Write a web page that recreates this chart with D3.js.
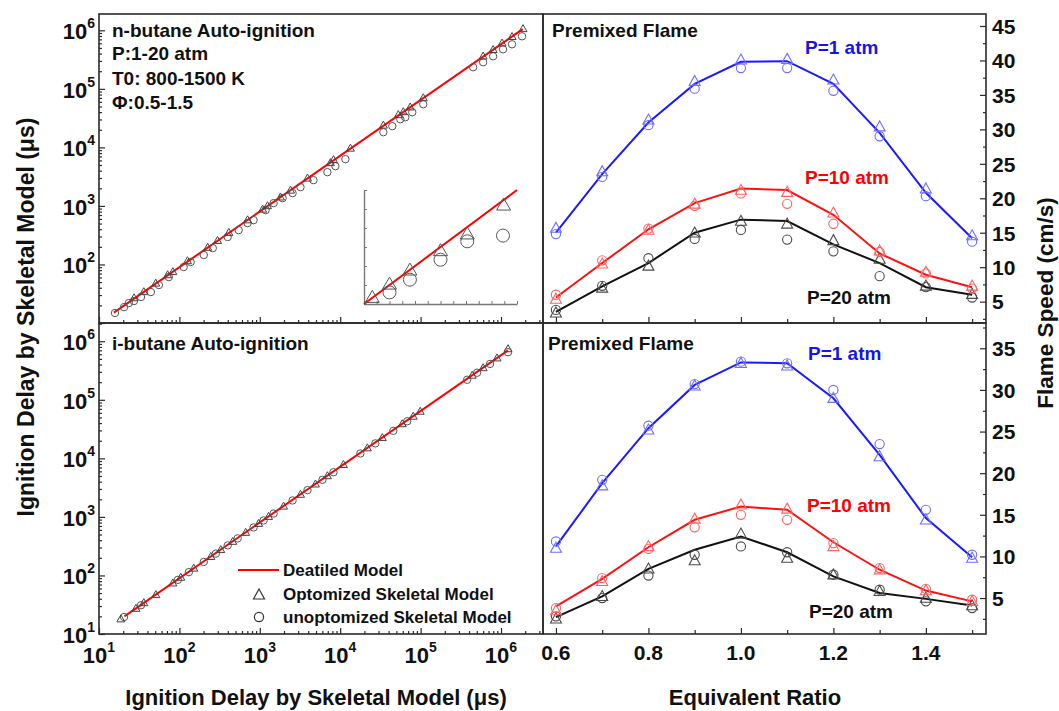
<!DOCTYPE html>
<html>
<head>
<meta charset="utf-8">
<script src="https://cdn.jsdelivr.net/npm/d3@7"></script>
<style>
  body { margin: 0; background: #fff; }
  svg text { font-family: "Liberation Sans", Arial, Helvetica, sans-serif; font-weight: bold; fill: #111; }
</style>
</head>
<body>
<svg id="chart" width="1059" height="711"></svg>
<script>
// ---------- Ignition delay data (μs): [skeletal, detailed] ----------
const nButaneDetailed = [[15.3, 15], [1866000, 1050000]];
const nButaneOptimized = [
  [27.3, 27.5], [36.1, 35], [50.8, 49], [71.4, 68], [82.9, 77], [126, 118], [225, 200], [298, 262],
  [412, 360], [704, 590], [1084, 900], [1247, 1030], [1807, 1450], [2412, 1900], [3915, 3050],
  [7556, 5600], [8248, 6300], [13400, 9900], [34410, 24500], [52840, 37000], [60900, 41500],
  [74270, 50000], [107900, 72000], [599500, 370000], [797500, 480000], [1030000, 620000],
  [1372000, 800000], [1879000, 1090000]
];
const nButaneUnoptimized = [
  [15.8, 14.8], [20.5, 18.7], [23.5, 21.9], [27.2, 23.7], [33.3, 27.8], [44.2, 33.8], [55.6, 44.5],
  [73.9, 60.9], [113, 90.3], [138, 110], [201, 145], [260, 190], [399, 294], [546, 386], [706, 509],
  [837, 572], [1181, 848], [1485, 1116], [1921, 1358], [2556, 1653], [3209, 2093], [4652, 2757],
  [6935, 3773], [8721, 4779], [11610, 6295], [34410, 18160], [44490, 23010], [55910, 30270],
  [64480, 32730], [78780, 39880], [107900, 54600], [450400, 233900], [599500, 284600],
  [797500, 359700], [1060000, 474000], [1372000, 577000], [1826000, 790000]
];

const iButaneDetailed = [[20.7, 20], [1223000, 700000]];
const iButaneOptimized = [
  [18.7, 18.5], [28.8, 28], [36.1, 35], [51.0, 48], [82.9, 76], [104, 95], [151, 136], [246, 215],
  [327, 282], [461, 390], [667, 555], [967, 790], [1285, 1040], [1976, 1560], [3209, 2480],
  [4923, 3720], [6935, 5150], [10970, 8000], [21770, 15400], [33400, 23100], [59150, 39800],
  [80890, 53500], [98850, 65000], [438200, 268000], [599500, 360000], [893000, 530000],
  [1223000, 760000]
];
const iButaneUnoptimized = [
  [20.5, 19.5], [33.3, 31], [95.6, 84], [131, 114], [201, 170], [284, 236], [399, 326], [531, 430],
  [837, 660], [1115, 870], [1485, 1140], [2556, 1910], [3920, 2870], [6015, 4300], [8248, 5800],
  [17820, 12100], [27350, 18000], [45770, 29500], [68200, 43000], [379000, 220000],
  [504600, 290000], [731400, 410000], [1223000, 650000]
];

// Inset (linear close-up of the n-butane comparison)
const insetDetailed = [[0, 0], [12, 6]];
const insetOptimized = [[0.65, 0.4], [2.0, 1.1], [3.6, 1.84], [6.0, 2.86], [8.1, 3.74], [10.95, 5.26]];
const insetUnoptimized = [[2.0, 0.61], [3.6, 1.28], [6.0, 2.33], [8.1, 3.3], [10.9, 3.6]];

// ---------- Laminar flame speed data (cm/s) ----------
const equivalenceRatio = [0.6, 0.7, 0.8, 0.9, 1.0, 1.1, 1.2, 1.3, 1.4, 1.5];

const nP1Detailed  = [15.0, 23.5, 31.0, 36.6, 39.8, 39.9, 36.6, 29.5, 20.8, 14.2];
const nP1Opt       = [15.8, 24.0, 31.5, 37.1, 40.2, 40.3, 37.3, 30.5, 21.5, 14.7];
const nP1Unopt     = [14.8, 23.1, 30.6, 35.9, 38.9, 38.9, 35.6, 29.0, 20.3, 13.7];
const nP10Detailed = [5.6, 10.6, 15.5, 19.3, 21.4, 21.2, 17.6, 12.0, 8.9, 7.1];
const nP10Opt      = [5.5, 10.6, 15.5, 19.3, 21.3, 21.0, 18.0, 12.5, 9.4, 7.4];
const nP10Unopt    = [6.0, 11.0, 15.6, 18.9, 20.7, 19.2, 16.3, 12.2, 9.1, 6.9];
const nP20Detailed = [3.5, 7.2, 10.6, 15.0, 16.9, 16.7, 13.3, 10.6, 7.1, 6.0];
const nP20Opt      = [3.5, 7.1, 10.3, 15.1, 16.8, 16.4, 14.0, 11.3, 7.4, 6.2];
const nP20Unopt    = [3.8, 7.3, 11.3, 14.1, 15.4, 14.0, 12.3, 8.7, 7.1, 5.6];

const iP1Detailed  = [11.2, 18.8, 25.4, 30.6, 33.3, 33.2, 29.0, 22.2, 14.6, 9.9];
const iP1Opt       = [11.1, 18.6, 25.3, 30.6, 33.3, 33.0, 29.1, 22.1, 14.5, 9.9];
const iP1Unopt     = [11.8, 19.2, 25.7, 30.7, 33.4, 33.2, 30.0, 23.5, 15.6, 10.2];
const iP10Detailed = [4.0, 7.3, 11.1, 14.4, 16.0, 15.6, 11.7, 8.4, 5.9, 4.6];
const iP10Opt      = [3.6, 7.1, 11.3, 14.6, 16.3, 15.8, 11.3, 8.5, 6.0, 4.7];
const iP10Unopt    = [3.8, 7.4, 10.9, 13.5, 15.0, 14.4, 11.6, 8.6, 6.1, 4.8];
const iP20Detailed = [2.7, 5.2, 8.5, 10.8, 12.4, 10.5, 7.6, 5.6, 4.9, 4.1];
const iP20Opt      = [2.6, 5.3, 8.6, 9.6, 12.8, 9.9, 7.9, 5.9, 5.1, 4.2];
const iP20Unopt    = [2.8, 5.0, 7.7, 10.2, 11.2, 10.5, 7.8, 6.0, 4.6, 3.8];

// Axis tick values
const phiMajorTicks = [0.6, 0.8, 1.0, 1.2, 1.4];
const phiMinorTicks = [0.7, 0.9, 1.1, 1.3, 1.5];
const speedTicksTop = [5, 10, 15, 20, 25, 30, 35, 40, 45];
const speedTicksBottom = [5, 10, 15, 20, 25, 30, 35];
const logMajorTicks = [10, 100, 1000, 10000, 100000, 1000000];

// ---------- Layout ----------
const L = 99, M = 543, R = 986, T = 14, MID = 323, B = 634;
const X_LOG_MAX = 3.33e6;
const svg = d3.select("#chart");

const frameColor = "#2a2a2a";

function logMinor(lo, hi) {
  const out = [];
  for (let e = 1; e < 7; e++) {
    for (let k = 2; k < 10; k++) {
      const v = k * Math.pow(10, e);
      if (v > lo && v < hi) out.push(v);
    }
  }
  return out;
}

function triPath(w, h) {
  return `M0,${-h / 2}L${w / 2},${h / 2}L${-w / 2},${h / 2}Z`;
}

function powerLabel(sel, base, exp) {
  sel.append("tspan").text(base);
  sel.append("tspan").attr("dy", -11).attr("font-size", 14).text(exp);
}

function cleanAxis(g) {
  g.select(".domain").remove();
  g.selectAll(".tick line").attr("stroke", frameColor).attr("stroke-width", 1.2);
}

// ---------- Left panels: ignition delay ----------
function ignitionPanel(top, bottom, yMax, yLabels, detailed, optimized, unoptimized, showXLabels) {
  const x = d3.scaleLog().domain([10, X_LOG_MAX]).range([L, M]);
  const y = d3.scaleLog().domain([10, yMax]).range([bottom, top]);
  const g = svg.append("g");

  // y axis ticks (inward) + labels
  g.append("g").attr("transform", `translate(${L},0)`)
    .call(d3.axisLeft(y).tickValues(logMinor(10, yMax)).tickSize(-3).tickFormat(""))
    .call(cleanAxis);
  g.append("g").attr("transform", `translate(${L},0)`)
    .call(d3.axisLeft(y).tickValues(logMajorTicks).tickSize(-6).tickFormat(""))
    .call(cleanAxis);
  yLabels.forEach(v => {
    const t = g.append("text").attr("x", L - 4).attr("y", y(v) + 9)
      .attr("text-anchor", "end").attr("font-size", 22);
    powerLabel(t, "10", Math.round(Math.log10(v)));
  });

  // x axis ticks (inward)
  g.append("g").attr("transform", `translate(0,${bottom})`)
    .call(d3.axisBottom(x).tickValues(logMinor(10, X_LOG_MAX)).tickSize(-3).tickFormat(""))
    .call(cleanAxis);
  g.append("g").attr("transform", `translate(0,${bottom})`)
    .call(d3.axisBottom(x).tickValues(logMajorTicks).tickSize(-6).tickFormat(""))
    .call(cleanAxis);
  if (showXLabels) {
    logMajorTicks.forEach(v => {
      const t = g.append("text").attr("x", x(v)).attr("y", bottom + 29)
        .attr("text-anchor", "middle").attr("font-size", 22);
      powerLabel(t, "10", Math.round(Math.log10(v)));
    });
  }

  // detailed-model line
  g.append("path").datum(detailed)
    .attr("d", d3.line().x(d => x(d[0])).y(d => y(d[1])))
    .attr("fill", "none").attr("stroke", "#ff0000").attr("stroke-width", 2);

  // skeletal-model markers
  g.selectAll(".unopt").data(unoptimized).join("circle")
    .attr("cx", d => x(d[0])).attr("cy", d => y(d[1])).attr("r", 3.7)
    .attr("fill", "none").attr("stroke", "#555").attr("stroke-width", 1);
  g.selectAll(".opt").data(optimized).join("path")
    .attr("d", triPath(8, 7))
    .attr("transform", d => `translate(${x(d[0])},${y(d[1])})`)
    .attr("fill", "none").attr("stroke", "#444").attr("stroke-width", 1);

  g.append("rect").attr("x", L).attr("y", top).attr("width", M - L).attr("height", bottom - top)
    .attr("fill", "none").attr("stroke", frameColor).attr("stroke-width", 1.6);
  return g;
}

const gN = ignitionPanel(T, MID, 1.9e6, logMajorTicks.slice(1),
  nButaneDetailed, nButaneOptimized, nButaneUnoptimized, false);
const gI = ignitionPanel(MID, B, 2.05e6, logMajorTicks,
  iButaneDetailed, iButaneOptimized, iButaneUnoptimized, true);

// panel annotations
[["n-butane Auto-ignition", 37], ["P:1-20 atm", 60], ["T0: 800-1500 K", 85], ["Φ:0.5-1.5", 109]]
  .forEach(([s, yy]) => gN.append("text").attr("x", 112).attr("y", yy).attr("font-size", 19).text(s));
gI.append("text").attr("x", 112).attr("y", 350).attr("font-size", 19).text("i-butane Auto-ignition");

// ---------- Inset ----------
(function () {
  const ix = d3.scaleLinear().domain([0, 12]).range([364, 517]);
  const iy = d3.scaleLinear().domain([0, 6]).range([304, 190]);
  const g = svg.append("g");
  const insetAxis = a => {
    a.select(".domain").attr("stroke", "#777").attr("stroke-width", 1.4);
    a.selectAll(".tick line").attr("stroke", "#777").attr("stroke-width", 1);
  };
  g.append("g").attr("transform", "translate(0,304)")
    .call(d3.axisBottom(ix).ticks(12).tickSize(-3).tickSizeOuter(0).tickFormat("")).call(insetAxis);
  g.append("g").attr("transform", "translate(364,0)")
    .call(d3.axisLeft(iy).ticks(6).tickSize(-3).tickSizeOuter(0).tickFormat("")).call(insetAxis);
  g.append("path").datum(insetDetailed)
    .attr("d", d3.line().x(d => ix(d[0])).y(d => iy(d[1])))
    .attr("stroke", "#ff0000").attr("stroke-width", 2).attr("fill", "none");
  g.selectAll(".ic").data(insetUnoptimized).join("circle")
    .attr("cx", d => ix(d[0])).attr("cy", d => iy(d[1])).attr("r", 6.5)
    .attr("fill", "none").attr("stroke", "#555").attr("stroke-width", 1);
  g.selectAll(".it").data(insetOptimized).join("path")
    .attr("d", triPath(14, 12))
    .attr("transform", d => `translate(${ix(d[0])},${iy(d[1])})`)
    .attr("fill", "none").attr("stroke", "#555").attr("stroke-width", 1);
})();

// ---------- Legend ----------
(function () {
  const g = svg.append("g");
  g.append("line").attr("x1", 238).attr("x2", 279).attr("y1", 570).attr("y2", 570)
    .attr("stroke", "#ff0000").attr("stroke-width", 2);
  g.append("path").attr("d", triPath(11, 10)).attr("transform", "translate(259,594)")
    .attr("fill", "none").attr("stroke", "#333").attr("stroke-width", 1.2);
  g.append("circle").attr("cx", 259).attr("cy", 617).attr("r", 4.6)
    .attr("fill", "none").attr("stroke", "#333").attr("stroke-width", 1.2);
  [["Deatiled Model", 576], ["Optomized Skeletal Model", 600], ["unoptomized Skeletal Model", 623]]
    .forEach(([s, yy]) => g.append("text").attr("x", 283).attr("y", yy).attr("font-size", 17).text(s));
})();

// ---------- Right panels: flame speed ----------
const seriesStyle = {
  blue:  { line: "#1a1aff", marker: "#6d6dff", text: "#1515e6" },
  red:   { line: "#ff1010", marker: "#ff6262", text: "#ff0000" },
  black: { line: "#111111", marker: "#4a4a4a", text: "#111111" }
};

function flamePanel(top, bottom, yDomain, yTicks, series, labels) {
  const x = d3.scaleLinear().domain([0.572, 1.53]).range([M, R]);
  const y = d3.scaleLinear().domain(yDomain).range([bottom, top]);
  const g = svg.append("g");

  const yMinor = yTicks.map(v => v + 2.5).filter(v => v < yDomain[1]);
  yMinor.push(yTicks[0] - 2.5);
  g.append("g").attr("transform", `translate(${R},0)`)
    .call(d3.axisRight(y).tickValues(yMinor.filter(v => v > yDomain[0])).tickSize(-3).tickFormat(""))
    .call(cleanAxis);
  g.append("g").attr("transform", `translate(${R},0)`)
    .call(d3.axisRight(y).tickValues(yTicks).tickSize(-6).tickPadding(6).tickFormat(d3.format("d")))
    .call(cleanAxis)
    .call(a => a.selectAll("text").attr("font-size", 21).attr("dy", "0.35em").attr("x", 6).attr("fill", "#111"));

  g.append("g").attr("transform", `translate(0,${bottom})`)
    .call(d3.axisBottom(x).tickValues(phiMinorTicks).tickSize(-4).tickFormat(""))
    .call(cleanAxis);
  g.append("g").attr("transform", `translate(0,${bottom})`)
    .call(d3.axisBottom(x).tickValues(phiMajorTicks).tickSize(-6).tickFormat(""))
    .call(cleanAxis);

  series.forEach(s => {
    const st = seriesStyle[s.color];
    g.append("path").datum(s.detailed)
      .attr("d", d3.line().x((d, i) => x(equivalenceRatio[i])).y(d => y(d)))
      .attr("fill", "none").attr("stroke", st.line).attr("stroke-width", 2);
    g.selectAll(null).data(s.unopt).join("circle")
      .attr("cx", (d, i) => x(equivalenceRatio[i])).attr("cy", d => y(d)).attr("r", 4.6)
      .attr("fill", "none").attr("stroke", st.marker).attr("stroke-width", 1.1);
    g.selectAll(null).data(s.opt).join("path")
      .attr("d", triPath(11, 10))
      .attr("transform", (d, i) => `translate(${x(equivalenceRatio[i])},${y(d)})`)
      .attr("fill", "none").attr("stroke", st.marker).attr("stroke-width", 1.1);
  });

  labels.forEach(l => g.append("text").attr("x", l.x).attr("y", l.y).attr("font-size", 19)
    .style("fill", l.fill).text(l.text));

  g.append("rect").attr("x", M).attr("y", top).attr("width", R - M).attr("height", bottom - top)
    .attr("fill", "none").attr("stroke", frameColor).attr("stroke-width", 1.6);
  return { g, x };
}

flamePanel(T, MID, [1.9, 46.74], speedTicksTop, [
  { color: "black", detailed: nP20Detailed, opt: nP20Opt, unopt: nP20Unopt },
  { color: "red", detailed: nP10Detailed, opt: nP10Opt, unopt: nP10Unopt },
  { color: "blue", detailed: nP1Detailed, opt: nP1Opt, unopt: nP1Unopt }
], [
  { text: "Premixed Flame", x: 552, y: 37, fill: "#111" },
  { text: "P=1 atm", x: 805, y: 54, fill: seriesStyle.blue.text },
  { text: "P=10 atm", x: 805, y: 184, fill: seriesStyle.red.text },
  { text: "P=20 atm", x: 807, y: 304, fill: "#111" }
]);

const bottomFlame = flamePanel(MID, B, [0.68, 38.04], speedTicksBottom, [
  { color: "black", detailed: iP20Detailed, opt: iP20Opt, unopt: iP20Unopt },
  { color: "red", detailed: iP10Detailed, opt: iP10Opt, unopt: iP10Unopt },
  { color: "blue", detailed: iP1Detailed, opt: iP1Opt, unopt: iP1Unopt }
], [
  { text: "Premixed Flame", x: 548, y: 350, fill: "#111" },
  { text: "P=1 atm", x: 808, y: 360, fill: seriesStyle.blue.text },
  { text: "P=10 atm", x: 807, y: 512, fill: seriesStyle.red.text },
  { text: "P=20 atm", x: 809, y: 618, fill: "#111" }
]);

// equivalence-ratio tick labels
phiMajorTicks.forEach(v => svg.append("text").attr("x", bottomFlame.x(v)).attr("y", 660)
  .attr("text-anchor", "middle").attr("font-size", 21).text(d3.format(".1f")(v)));

// ---------- Axis titles ----------
svg.append("text").attr("transform", "translate(34,317) rotate(-90)")
  .attr("text-anchor", "middle").attr("font-size", 23)
  .text("Ignition Delay by Skeletal Model (μs)");
svg.append("text").attr("x", 316).attr("y", 705)
  .attr("text-anchor", "middle").attr("font-size", 22)
  .text("Ignition Delay by Skeletal Model (μs)");
svg.append("text").attr("x", 755).attr("y", 705)
  .attr("text-anchor", "middle").attr("font-size", 22)
  .text("Equivalent Ratio");
svg.append("text").attr("transform", "translate(1053,303) rotate(-90)")
  .attr("text-anchor", "middle").attr("font-size", 22.5)
  .text("Flame Speed (cm/s)");
</script>
</body>
</html>
